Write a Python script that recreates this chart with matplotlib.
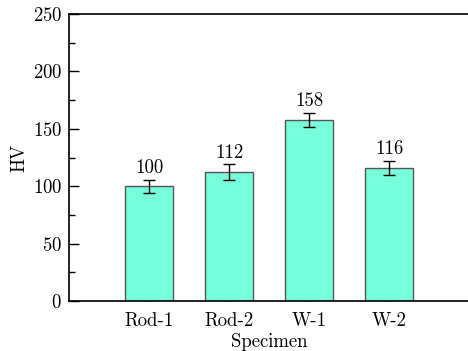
import matplotlib
matplotlib.use("Agg")
import matplotlib.pyplot as plt
from matplotlib.ticker import MultipleLocator

specimens = ["Rod-1", "Rod-2", "W-1", "W-2"]
hv = [100, 112, 158, 116]
hv_err = [5.5, 7, 6, 6]

plt.rcParams['font.family'] = ['cmr10', 'DejaVu Serif']
plt.rcParams['axes.formatter.use_mathtext'] = True

fig = plt.figure(figsize=(4.68, 3.51), dpi=100)
ax = fig.add_axes([0.1474, 0.1425, 0.855, 0.8175])

x = list(range(1, len(specimens) + 1))
ax.bar(x, hv, width=0.6, color='#76FFDA', edgecolor='#555555', linewidth=1.0, zorder=2)
ax.errorbar(x, hv, yerr=hv_err, fmt='none', ecolor='black', elinewidth=1.0,
            capsize=4, capthick=1.0, zorder=3)
for xi, v, e in zip(x, hv, hv_err):
    ax.text(xi, v + e + 2.5, str(v), ha='center', va='bottom', fontsize=13.5)

ax.set_xlim(0, 5)
ax.set_ylim(0, 250)
ax.set_xticks(x)
ax.set_xticklabels(specimens)
ax.yaxis.set_major_locator(MultipleLocator(50))
ax.yaxis.set_minor_locator(MultipleLocator(25))
ax.tick_params(axis='both', which='both', direction='in', labelsize=13.5)
ax.tick_params(axis='y', which='major', length=7, width=1, pad=5)
ax.tick_params(axis='y', which='minor', length=4, width=1)
ax.tick_params(axis='x', which='major', length=5, width=1, pad=8)
ax.set_xlabel('Specimen', fontsize=13.5, labelpad=2)
ax.set_ylabel('HV', fontsize=13.5, labelpad=3)
for s in ax.spines.values():
    s.set_linewidth(1.2)

fig.savefig('out.png', dpi=100)
